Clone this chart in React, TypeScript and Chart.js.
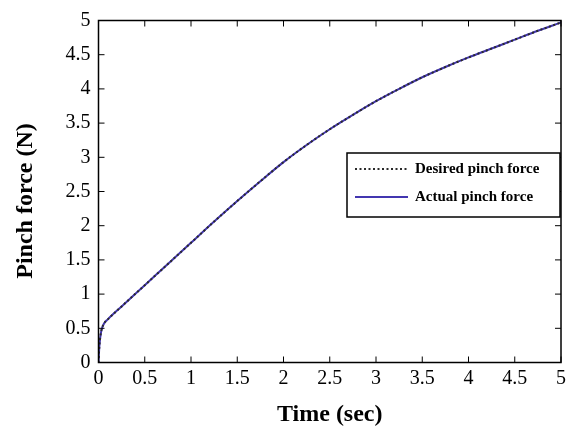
import React, { useEffect, useRef } from "react";
import { Chart, registerables } from "chart.js";

Chart.register(...registerables);

const timeSec = [0, 0.01, 0.03, 0.06, 0.1, 0.25, 0.5, 0.75, 1, 1.25, 1.5, 1.75, 2, 2.25, 2.5, 2.75, 3, 3.25, 3.5, 3.75, 4, 4.25, 4.5, 4.75, 5];
const desiredForce = [0, 0.25, 0.46, 0.57, 0.63, 0.82, 1.13, 1.44, 1.75, 2.06, 2.36, 2.65, 2.93, 3.18, 3.41, 3.62, 3.82, 4.0, 4.17, 4.32, 4.46, 4.59, 4.72, 4.85, 4.97];
const actualForce = [0, 0.25, 0.46, 0.57, 0.63, 0.82, 1.13, 1.44, 1.75, 2.06, 2.36, 2.65, 2.93, 3.18, 3.41, 3.62, 3.82, 4.0, 4.17, 4.32, 4.46, 4.59, 4.72, 4.85, 4.97];
const seriesLabels = ["Desired pinch force", "Actual pinch force"];
const xTitle = "Time (sec)";
const yTitle = "Pinch force (N)";

const FONT = "'Liberation Serif', 'Times New Roman', serif";

const framePlugin = {
  id: "frame",
  afterDatasetsDraw(chart: any) {
    const { ctx, chartArea: a, scales } = chart;
    const xs = scales.x;
    const ys = scales.y;
    ctx.save();
    ctx.strokeStyle = "#000";
    ctx.lineWidth = 1.5;
    ctx.strokeRect(a.left, a.top, a.right - a.left, a.bottom - a.top);
    ctx.lineWidth = 1;
    const tl = 6;
    xs.ticks.forEach((t: any) => {
      const px = xs.getPixelForValue(t.value);
      ctx.beginPath();
      ctx.moveTo(px, a.bottom);
      ctx.lineTo(px, a.bottom - tl);
      ctx.moveTo(px, a.top);
      ctx.lineTo(px, a.top + tl);
      ctx.stroke();
    });
    ys.ticks.forEach((t: any) => {
      const py = ys.getPixelForValue(t.value);
      ctx.beginPath();
      ctx.moveTo(a.left, py);
      ctx.lineTo(a.left + tl, py);
      ctx.moveTo(a.right, py);
      ctx.lineTo(a.right - tl, py);
      ctx.stroke();
    });

    // Axis titles
    ctx.fillStyle = "#000";
    ctx.font = `bold 24px ${FONT}`;
    ctx.textAlign = "center";
    ctx.textBaseline = "middle";
    ctx.fillText(xTitle, (a.left + a.right) / 2, 415);
    ctx.save();
    ctx.translate(26, 201);
    ctx.rotate(-Math.PI / 2);
    ctx.fillText(yTitle, 0, 0);
    ctx.restore();

    // Legend
    const lx = 347, ly = 153, lw = 213, lh = 64;
    ctx.fillStyle = "#fff";
    ctx.fillRect(lx, ly, lw, lh);
    ctx.strokeStyle = "#000";
    ctx.lineWidth = 1.5;
    ctx.strokeRect(lx, ly, lw, lh);
    const rows = [169, 197];
    chart.data.datasets.forEach((ds: any, i: number) => {
      const y = rows[i];
      ctx.beginPath();
      ctx.strokeStyle = ds.borderColor;
      ctx.lineWidth = ds.borderWidth;
      ctx.setLineDash(ds.borderDash || []);
      ctx.moveTo(355, y);
      ctx.lineTo(408, y);
      ctx.stroke();
      ctx.setLineDash([]);
      ctx.fillStyle = "#000";
      ctx.font = `bold 15px ${FONT}`;
      ctx.textAlign = "left";
      ctx.textBaseline = "middle";
      ctx.fillText(ds.label, 415, y);
    });
    ctx.restore();
  },
};

export default function App() {
  const ref = useRef<HTMLCanvasElement | null>(null);
  useEffect(() => {
    if (!ref.current) return;
    const chart = new Chart(ref.current, {
      type: "line",
      data: {
        datasets: [
          {
            label: seriesLabels[0],
            data: timeSec.map((t, i) => ({ x: t, y: desiredForce[i] })),
            borderColor: "#2a2a2a",
            borderWidth: 2,
            borderDash: [2, 2.5],
            pointRadius: 0,
            cubicInterpolationMode: "monotone",
            fill: false,
          },
          {
            label: seriesLabels[1],
            data: timeSec.map((t, i) => ({ x: t, y: actualForce[i] })),
            borderColor: "#4336b0",
            borderWidth: 2,
            pointRadius: 0,
            cubicInterpolationMode: "monotone",
            fill: false,
          },
        ],
      },
      options: {
        animation: false,
        responsive: false,
        layout: { padding: { top: 20.5, right: 5, left: 0, bottom: 0 } },
        plugins: { legend: { display: false }, tooltip: { enabled: false } },
        scales: {
          x: {
            type: "linear",
            min: 0,
            max: 5,
            ticks: {
              stepSize: 0.5,
              color: "#000",
              font: { family: FONT, size: 20 },
              padding: 4,
              maxRotation: 0,
              callback: (v: any) => String(v),
            },
            grid: { display: false, drawTicks: false },
            border: { display: false },
            afterFit: (s: any) => {
              s.height = 73.5;
            },
          },
          y: {
            type: "linear",
            min: 0,
            max: 5,
            ticks: {
              stepSize: 0.5,
              color: "#000",
              font: { family: FONT, size: 20 },
              padding: 8,
              callback: (v: any) => String(v),
            },
            grid: { display: false, drawTicks: false },
            border: { display: false },
            afterFit: (s: any) => {
              s.width = 98.5;
            },
          },
        },
      },
      plugins: [framePlugin],
    });
    return () => chart.destroy();
  }, []);
  return (
    <div style={{ position: "absolute", left: 0, top: 0, width: 570, height: 436, background: "#fff" }}>
      <canvas ref={ref} width={570} height={436} style={{ display: "block" }} />
    </div>
  );
}
